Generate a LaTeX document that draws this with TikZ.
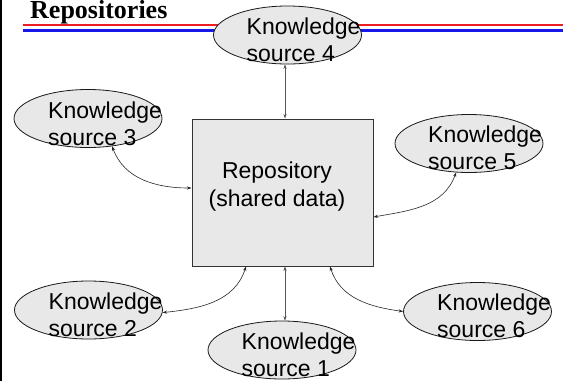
\documentclass[tikz,border=0pt]{standalone}
\usepackage{fontspec}
\setmainfont{Liberation Sans}
\newfontfamily\titlefont{Liberation Serif}
\usetikzlibrary{shapes.geometric,arrows.meta}
\definecolor{panel}{RGB}{232,232,232}
\definecolor{rulered}{RGB}{236,28,36}
\definecolor{ruleblue}{RGB}{24,24,232}
\definecolor{linkgray}{RGB}{85,85,85}
\begin{document}
\begin{tikzpicture}[x=1pt,y=-1pt,
  source/.style={ellipse, draw=black!90, line width=0.8pt, fill=panel,
    minimum width=148pt, minimum height=58pt, inner sep=0pt},
  srclabel/.style={anchor=north west, inner sep=0pt, align=left,
    font=\fontsize{23}{27}\selectfont},
  link/.style={line width=0.6pt, draw=black!85,
    {Stealth[length=4.5pt,width=3.2pt]}-{Stealth[length=4.5pt,width=3.2pt]}}]

% page and left margin bar
\fill[white] (0,0) rectangle (563,381);
\useasboundingbox (0,0) rectangle (563,381);
\fill[black] (0,0) rectangle (2,381);

% heading with double rule
\node[anchor=base west, inner sep=0pt,
  font=\titlefont\bfseries\fontsize{26}{30}\selectfont] (title) at (30,18) {Repositories};
\coordinate (rulestart) at (23,25);
\coordinate (ruleend) at (563,25);
\draw[rulered, line width=2.2pt] (rulestart) -- (ruleend);
\draw[ruleblue, line width=2.2pt] ([yshift=-5.5pt]rulestart) -- ([yshift=-5.5pt]ruleend);

% central repository
\node[draw=black!80, line width=1pt, fill=panel, minimum width=181pt,
  minimum height=147pt, inner sep=0pt] (repo) at (282.5,192.5) {};
\node[align=center, inner sep=0pt, font=\fontsize{23}{28}\selectfont]
  (repotext) at (277,187) {Repository\\(shared data)};

% knowledge sources
\node[source] (ks4) at (287.5,35) {};
\node[source] (ks3) at (88,118.5) {};
\node[source] (ks5) at (469,143.5) {};
\node[source] (ks2) at (88.5,310) {};
\node[source] (ks1) at (282,350) {};
\node[source] (ks6) at (477.5,311.5) {};

\node[srclabel] (ks4text) at (246.5,17.5) {Knowledge\\source 4};
\node[srclabel] (ks3text) at (48,102) {Knowledge\\source 3};
\node[srclabel] (ks5text) at (428,126) {Knowledge\\source 5};
\node[srclabel] (ks2text) at (48.5,292.5) {Knowledge\\source 2};
\node[srclabel] (ks1text) at (241.5,332.5) {Knowledge\\source 1};
\node[srclabel] (ks6text) at (437,294) {Knowledge\\source 6};

% connections to the repository
\draw[link, draw=linkgray] ([xshift=-2.5pt]ks4.south) -- ([xshift=2.5pt]repo.north);
\draw[link, draw=linkgray] ([xshift=2.5pt]repo.south) -- ([xshift=3pt]ks1.north);
\draw[link] (ks3.-49) to[out=-70, in=180] ([yshift=4.5pt]repo.west);
\draw[link] ([yshift=-24.5pt]repo.east) to[out=10, in=-110] (ks5.-114);
\draw[link] (ks2.-2) to[out=6, in=-108] ([xshift=-36.5pt]repo.south);
\draw[link] (ks6.west) to[out=172, in=-72] ([xshift=47.5pt]repo.south);
\end{tikzpicture}
\end{document}
